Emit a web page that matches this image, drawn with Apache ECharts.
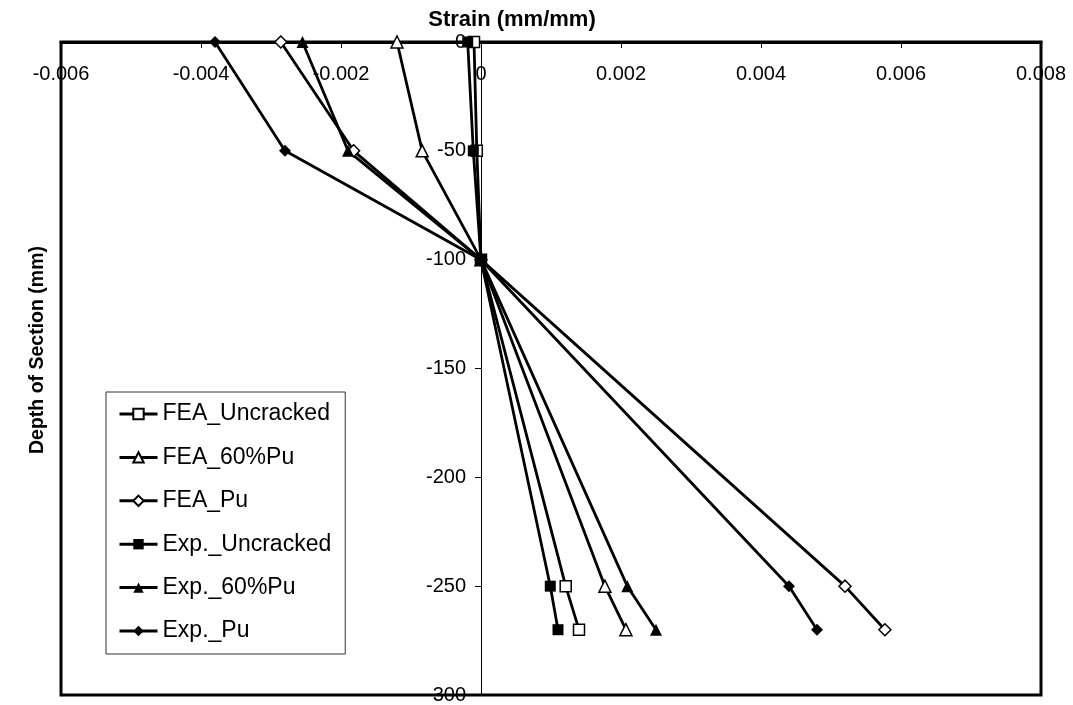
<!DOCTYPE html>
<html>
<head>
<meta charset="utf-8">
<script src="https://cdn.jsdelivr.net/npm/echarts@6/dist/echarts.min.js"></script>
<style>
  html, body { margin: 0; padding: 0; background: #fff; }
  #chart { width: 1073px; height: 705px; }
</style>
</head>
<body>
<div id="chart"></div>
<script>
const depths = [0, -50, -100, -250, -270];

const feaUncracked = [-0.0001, -0.00006, 0, 0.00121, 0.0014];
const fea60 = [-0.0012, -0.00084, 0, 0.00177, 0.00207];
const feaPu = [-0.00286, -0.00182, 0, 0.0052, 0.00577];
const expUncracked = [-0.00019, -0.00011, 0, 0.00099, 0.0011];
const exp60 = [-0.00255, -0.0019, 0, 0.00209, 0.0025];
const expPu = [-0.0038, -0.0028, 0, 0.0044, 0.0048];

const seriesNames = ['FEA_Uncracked', 'FEA_60%Pu', 'FEA_Pu', 'Exp._Uncracked', 'Exp._60%Pu', 'Exp._Pu'];
const strainTicks = ['-0.006', '-0.004', '-0.002', '0', '0.002', '0.004', '0.006', '0.008'];

const font = '"Liberation Sans", Arial, sans-serif';

// plot box in px, the depth axis sits on strain = 0
const gridLeft = 61;
const gridRight = 32;
const zeroX = 481;

function pairs(strains) {
  return strains.map((s, i) => [s, depths[i]]);
}

function makeSeries(name, strains, symbol, size, open) {
  return {
    name: name,
    type: 'line',
    data: pairs(strains),
    symbol: symbol,
    symbolSize: size,
    showAllSymbol: true,
    lineStyle: { color: '#000', width: 2.8 },
    itemStyle: {
      color: open ? '#fff' : '#000',
      borderColor: '#000',
      borderWidth: open ? 1.5 : 0,
      opacity: 1
    },
    emphasis: { disabled: true }
  };
}

const chart = echarts.init(document.getElementById('chart'), null, { renderer: 'canvas' });

chart.setOption({
  animation: false,
  backgroundColor: '#fff',
  grid: {
    left: gridLeft,
    right: gridRight,
    top: 42,
    bottom: 7,
    show: true,
    borderColor: '#000',
    borderWidth: 3
  },
  graphic: [
    {
      type: 'text',
      x: 512,
      y: 20,
      style: {
        text: 'Strain (mm/mm)',
        fontFamily: font,
        fontSize: 22,
        fontWeight: 'bold',
        fill: '#000',
        textAlign: 'center',
        textVerticalAlign: 'middle'
      }
    },
    {
      type: 'text',
      x: 38,
      y: 350,
      rotation: Math.PI / 2,
      style: {
        text: 'Depth of Section (mm)',
        fontFamily: font,
        fontSize: 19.5,
        fontWeight: 'bold',
        fill: '#000',
        textAlign: 'center',
        textVerticalAlign: 'middle'
      }
    }
  ],
  legend: {
    orient: 'vertical',
    left: 106,
    top: 392,
    padding: [9, 14, 10, 12],
    itemGap: 17.4,
    itemWidth: 38,
    itemHeight: 13,
    borderColor: '#333',
    borderWidth: 1,
    backgroundColor: '#fff',
    selectedMode: false,
    data: seriesNames,
    lineStyle: { width: 3 },
    textStyle: {
      fontFamily: font,
      fontSize: 23,
      lineHeight: 26,
      color: '#000'
    }
  },
  xAxis: {
    type: 'value',
    position: 'top',
    min: -0.006,
    max: 0.008,
    interval: 0.002,
    axisLine: { onZero: true, lineStyle: { color: '#000', width: 3 } },
    axisTick: { show: true, inside: true, length: 6, lineStyle: { color: '#000', width: 1 } },
    axisLabel: {
      inside: true,
      margin: 22,
      fontFamily: font,
      fontSize: 20,
      color: '#000',
      showMinLabel: true,
      showMaxLabel: true,
      formatter: function (v) {
        const i = Math.round((v + 0.006) / 0.002);
        return strainTicks[i];
      }
    },
    splitLine: { show: false }
  },
  yAxis: {
    type: 'value',
    position: 'left',
    offset: -(zeroX - gridLeft),
    min: -300,
    max: 0,
    interval: 50,
    axisLine: { onZero: false, lineStyle: { color: '#000', width: 1 } },
    axisTick: { show: true, inside: false, length: 6, lineStyle: { color: '#000', width: 1 } },
    axisLabel: {
      margin: 15,
      fontFamily: font,
      fontSize: 20,
      color: '#000',
      showMinLabel: true,
      showMaxLabel: true
    },
    splitLine: { show: false }
  },
  series: [
    makeSeries(seriesNames[0], feaUncracked, 'rect', 11, true),
    makeSeries(seriesNames[1], fea60, 'triangle', 12, true),
    makeSeries(seriesNames[2], feaPu, 'diamond', 12, true),
    makeSeries(seriesNames[3], expUncracked, 'rect', 11, false),
    makeSeries(seriesNames[4], exp60, 'triangle', 12, false),
    makeSeries(seriesNames[5], expPu, 'diamond', 12, false)
  ]
});
</script>
</body>
</html>
